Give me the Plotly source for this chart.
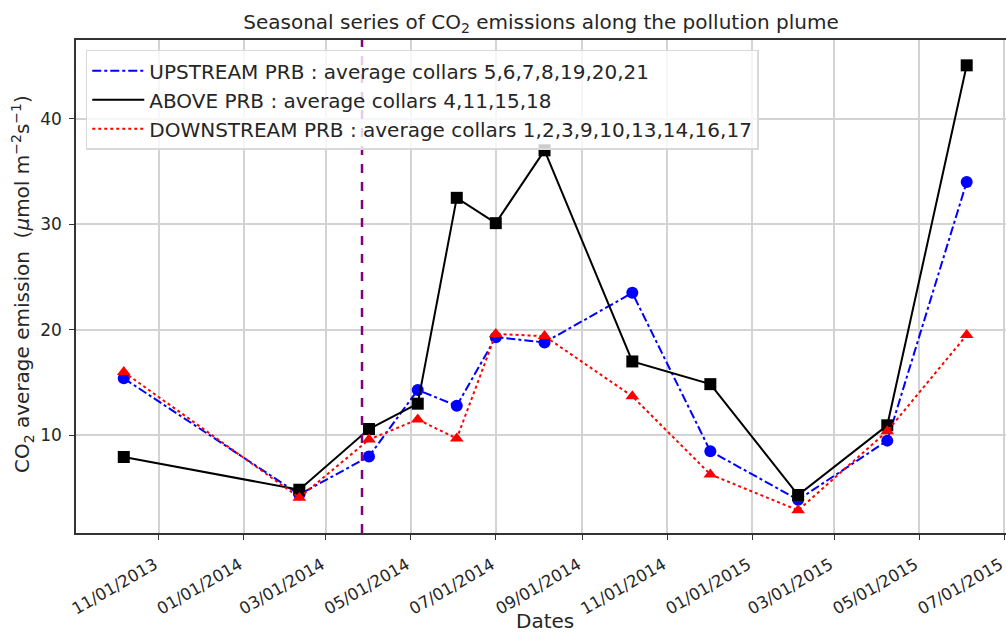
import plotly.graph_objects as go

# sampling dates
dates = ['2013-10-07', '2014-02-10', '2014-04-01', '2014-05-06', '2014-06-03', '2014-07-01',
         '2014-08-05', '2014-10-07', '2014-12-02', '2015-02-03', '2015-04-08', '2015-06-04']

upstream = [15.4, 4.4, 8.0, 14.3, 12.8, 19.3, 18.8, 23.5, 8.5, 3.9, 9.5, 34.0]
above = [7.95, 4.85, 10.6, 13.0, 32.5, 30.1, 37.0, 17.0, 14.85, 4.35, 10.95, 45.05]
downstream = [16.0, 4.1, 9.6, 11.5, 9.7, 19.6, 19.4, 13.7, 6.3, 2.9, 10.4, 19.5]

prb_install_date = '2014-03-27'

tick_dates = ['2013-11-01', '2014-01-01', '2014-03-01', '2014-05-01', '2014-07-01', '2014-09-01',
              '2014-11-01', '2015-01-01', '2015-03-01', '2015-05-01', '2015-07-01']
tick_labels = ['11/01/2013', '01/01/2014', '03/01/2014', '05/01/2014', '07/01/2014', '09/01/2014',
               '11/01/2014', '01/01/2015', '03/01/2015', '05/01/2015', '07/01/2015']

FONT = 'DejaVu Sans'
TEXT = '#262626'

series = [
    ('UPSTREAM PRB : average collars 5,6,7,8,19,20,21', upstream, '#0000ff', 'dashdot', 'circle'),
    ('ABOVE PRB : average collars 4,11,15,18', above, '#000000', 'solid', 'square'),
    ('DOWNSTREAM PRB : average collars 1,2,3,9,10,13,14,16,17', downstream, '#ff0000', 'dot', 'triangle-up'),
]

fig = go.Figure()

for name, values, color, dash, symbol in series:
    fig.add_trace(go.Scatter(
        x=dates, y=values, mode='lines', name=name,
        line=dict(color=color, width=2, dash=dash),
    ))
    fig.add_trace(go.Scatter(
        x=dates, y=values, mode='markers', showlegend=False,
        marker=dict(color=color, size=12, symbol=symbol, line=dict(width=0)),
    ))

# PRB installation marker
fig.add_shape(type='line', xref='x', yref='paper', x0=prb_install_date, x1=prb_install_date,
              y0=0, y1=1, line=dict(color='#800080', width=2.5, dash='dash'))

fig.update_layout(
    width=1006, height=635,
    margin=dict(l=76, r=0, t=40, b=102),
    paper_bgcolor='white', plot_bgcolor='white',
    font=dict(family=FONT, color=TEXT, size=17),
    title=dict(text='Seasonal series of CO<sub>2</sub> emissions along the pollution plume',
               x=0.5, xref='paper', xanchor='center', y=1 - 22 / 635, yanchor='middle',
               font=dict(size=20, family=FONT, color=TEXT)),
    showlegend=True,
    legend=dict(x=0.0105, y=0.98, xanchor='left', yanchor='top', itemwidth=52,
                bgcolor='rgba(255,255,255,0.8)', bordercolor='#d9d9d9', borderwidth=1.5,
                font=dict(size=20, family=FONT, color=TEXT)),
)

fig.update_xaxes(
    type='date', range=['2013-09-02 17:00', '2015-07-02 05:00'],
    tickvals=tick_dates, ticktext=tick_labels, tickangle=-30,
    ticklabeloverflow='allow', ticklabelstandoff=9, ticklabelshift=-4,
    showgrid=True, gridcolor='#d3d3d3', gridwidth=1.5,
    showline=True, linecolor='#333333', linewidth=1.5, mirror=True,
    ticks='outside', ticklen=5, tickcolor='#333333', tickwidth=1.2,
    tickfont=dict(size=16.5, family=FONT), zeroline=False, automargin=False,
)
fig.update_yaxes(
    range=[0.75, 47.45], tickvals=[10, 20, 30, 40], ticklabelstandoff=4,
    showgrid=True, gridcolor='#d3d3d3', gridwidth=1.5,
    showline=True, linecolor='#333333', linewidth=1.5,
    ticks='outside', ticklen=5, tickcolor='#333333', tickwidth=1.2,
    tickfont=dict(size=17, family=FONT), zeroline=False, automargin=False,
)

fig.add_annotation(text='Dates', xref='paper', yref='paper', x=(545 - 76) / 930, y=-(621 - 533) / 493,
                   xanchor='center', yanchor='middle', showarrow=False,
                   font=dict(size=20, family=FONT, color=TEXT))
fig.add_annotation(text='CO<sub>2</sub> average emission  (<i>μ</i>mol m<sup>−2</sup>s<sup>−1</sup>)',
                   xref='paper', yref='paper', x=(22 - 76) / 930, y=(533 - 284) / 493,
                   xanchor='center', yanchor='middle', textangle=-90, showarrow=False,
                   font=dict(size=20, family=FONT, color=TEXT))

# the page has a default body margin; drop it so the figure sits at the window's corner
fig.write_html('out.html', config={'displayModeBar': False},
               post_script="document.body.style.margin='0';")
